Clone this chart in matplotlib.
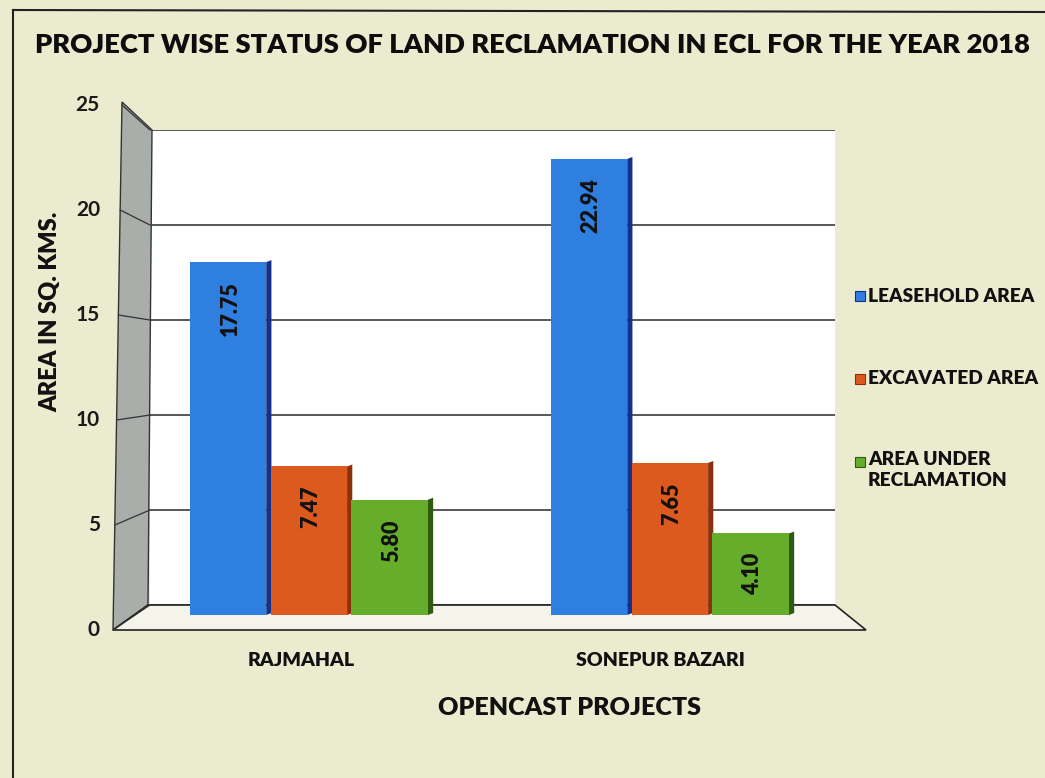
import matplotlib.pyplot as plt
from matplotlib.patches import Polygon, Rectangle
from matplotlib.lines import Line2D

projects = ["RAJMAHAL", "SONEPUR BAZARI"]
series_names = ["LEASEHOLD AREA", "EXCAVATED AREA", "AREA UNDER\nRECLAMATION"]
leasehold = [17.75, 22.94]
excavated = [7.47, 7.65]
reclamation = [5.80, 4.10]
y_ticks = [0, 5, 10, 15, 20, 25]

face_colors = ["#2f7fe0", "#dc5a1e", "#66ad2c"]
side_colors = ["#13318a", "#8c2f0c", "#2f5a12"]
bg = "#ebebcf"
WT = "heavy"

W, H = 1045, 778
fig = plt.figure(figsize=(W / 100, H / 100), dpi=100, facecolor=bg)
plt.rcParams['font.family'] = ['Lato', 'DejaVu Sans']


def fx(px):
    return px / W


def fy(py):
    return 1 - py / H


# photo frame lines
fig.add_artist(Line2D([fx(13), fx(13)], [fy(10), fy(778)], color="#222", lw=1.5))
fig.add_artist(Line2D([fx(13), fx(1045)], [fy(10), fy(12)], color="#222", lw=1.5))

# back wall axes (gridlines)
wall = fig.add_axes([fx(150), fy(605), fx(835 - 150), fy(130) - fy(605)])
wall.set_facecolor("white")
wall.set_ylim(0, 25)
wall.set_xlim(0, 1)
wall.set_yticks(y_ticks)
wall.yaxis.grid(True, color="#2a2a2a", lw=1.1)
wall.set_xticks([])
wall.tick_params(left=False, labelleft=False)
for s in wall.spines.values():
    s.set_visible(False)

# grey side wall
side = Polygon([[fx(122), fy(102)], [fx(152), fy(130)], [fx(148), fy(605)], [fx(113), fy(630)]],
               closed=True, transform=fig.transFigure, facecolor="#a9aeab", edgecolor="#333", lw=1)
fig.add_artist(side)
# floor
floor = Polygon([[fx(113), fy(630)], [fx(148), fy(605)], [fx(835), fy(605)], [fx(866), fy(630)]],
                closed=True, transform=fig.transFigure, facecolor="#f4f4ea", edgecolor="#222", lw=1.2)
fig.add_artist(floor)

# slanted gridlines on the side wall + front tick labels
front_top, front_bot = 105, 630
back_top, back_bot = 130, 605
for t in y_ticks:
    yf = front_bot - (front_bot - front_top) * t / 25
    yb = back_bot - (back_bot - back_top) * t / 25
    xf = 113 + (122 - 113) * t / 25
    fig.add_artist(Line2D([fx(xf), fx(150)], [fy(yf), fy(yb)], color="#333", lw=0.9))
    fig.text(fx(100), fy(yf), str(t), ha="right", va="center", fontsize=15, fontweight="bold", color="#1a1a1a")

# bar axes
ax = fig.add_axes([fx(148), fy(615), fx(835 - 148), fy(118) - fy(615)])
ax.set_zorder(3)
ax.patch.set_alpha(0)
ax.set_ylim(0, 25)
ax.set_xlim(-0.4515, 1.4515)
ax.axis("off")

bw = 0.224
dx = 0.012
all_series = [leasehold, excavated, reclamation]
for j, vals in enumerate(all_series):
    for i, v in enumerate(vals):
        x0 = i + (j - 1) * bw - bw / 2
        ax.add_patch(Polygon([[x0 + bw - dx, 0], [x0 + bw + dx * 0.2, 0.1], [x0 + bw + dx * 0.2, v + 0.1],
                              [x0 + bw - dx, v]], closed=True, facecolor=side_colors[j], edgecolor="none"))
        ax.add_patch(Rectangle((x0, 0), bw - dx, v, facecolor=face_colors[j], edgecolor="none"))
        ax.annotate(f"{v:.2f}", (x0 + bw / 2, v), xytext=(0, -14), textcoords="offset points",
                    rotation=90, ha="center", va="top", fontsize=15.5, fontweight=WT, color="#111")

# category labels
for i, p in enumerate(projects):
    xd = ax.transData.transform((i, 0))[0]
    fig.text(xd / W - fx(10) if i == 0 else xd / W - fx(12), fy(660), p, ha="center", va="center",
             fontsize=14, fontweight=WT, color="#111")

fig.text(fx(35), fy(45), "PROJECT WISE STATUS OF LAND RECLAMATION IN ECL FOR THE YEAR 2018",
         ha="left", va="center", fontsize=19.7, fontweight=WT, color="#0d0d0d")
fig.text(fx(50), fy(312), "AREA IN SQ. KMS.", rotation=90, ha="center", va="center",
         fontsize=17, fontweight=WT, color="#111")
fig.text(fx(570), fy(708), "OPENCAST PROJECTS", ha="center", va="center",
         fontsize=18, fontweight=WT, color="#111")

# legend
leg_y = [296, 379, 462]
for j, name in enumerate(series_names):
    fig.add_artist(Rectangle((fx(855), fy(leg_y[j] + 5)), fx(10), fy(0) - fy(10),
                             transform=fig.transFigure, facecolor=face_colors[j], edgecolor=side_colors[j], lw=0.8))
    multi = "\n" in name
    fig.text(fx(868), fy(leg_y[j] - 11) if multi else fy(leg_y[j]), name, ha="left",
             va="top" if multi else "center",
             fontsize=13.8, fontweight=WT, color="#111", linespacing=1.3)

fig.savefig("out.png", dpi=100, facecolor=bg)
